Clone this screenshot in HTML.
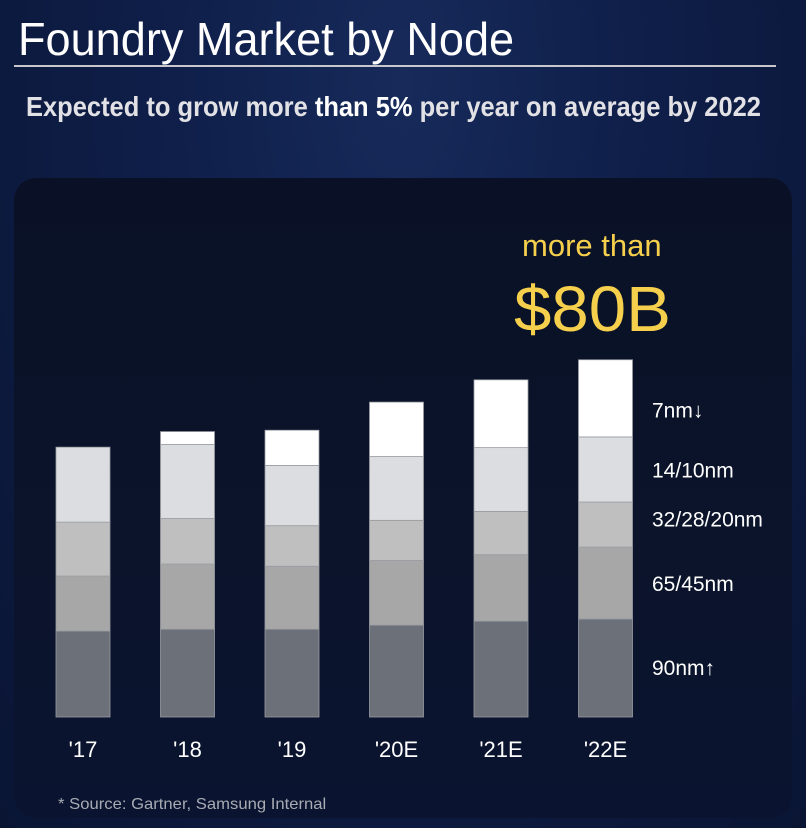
<!DOCTYPE html>
<html><head><meta charset="utf-8"><style>
html,body{margin:0;padding:0}
body{width:806px;height:828px;position:relative;overflow:hidden;font-family:"Liberation Sans",sans-serif;
background:radial-gradient(ellipse at 50% 10%,#172a5a 0%,#0f1f4a 40%,#0a1534 100%);}
.t{position:absolute;white-space:nowrap;transform-origin:0 0}
#panel{position:absolute;left:14px;top:178px;width:778px;height:640px;border-radius:22px;background:linear-gradient(180deg,#0a1126,#0b142b 60%,#0a1430)}
</style></head><body>
<div class="t" style="left:18px;top:12px;font-size:46px;color:#fff;transform:scaleX(0.98)">Foundry Market by Node</div>
<div style="position:absolute;left:14px;top:65px;width:762px;height:2px;background:#c8c8cc"></div>
<div class="t" style="left:26px;top:91px;font-size:28px;color:#e2e2e6;transform:scaleX(0.91);font-weight:bold">Expected to grow more <span style="color:#fff">than 5%</span> per year on average by 2022</div>
<div id="panel"></div>
<svg id="chart" width="806" height="828" style="position:absolute;left:0;top:0"></svg>
<div class="t" style="left:522px;top:228px;font-size:31px;color:#f6d04d;transform:scaleX(1.0)">more than</div>
<div class="t" style="left:514px;top:272px;font-size:64px;color:#f6d04d;transform:scaleX(1.05)">$80B</div>
<div class="t" style="left:58px;top:796px;font-size:16px;color:#a8abb3;transform:scaleX(1.04)">* Source: Gartner, Samsung Internal</div>
<script>
const categories=["'17","'18","'19","'20E","'21E","'22E"];
const series90=[19.3,19.7,19.7,20.6,21.5,22.0];
const series65=[12.3,14.6,14.1,14.5,14.9,16.1];
const series32=[12.1,10.2,9.1,9.0,9.7,10.1];
const series14=[16.8,16.6,13.5,14.3,14.3,14.6];
const series7=[0,2.9,7.9,12.2,15.2,17.3];
const seriesNames=["90nm↑","65/45nm","32/28/20nm","14/10nm","7nm↓"];
const NS="http://www.w3.org/2000/svg";
const svg=document.getElementById('chart');
const baseY=717, pxPer=4.46, x0=56, step=104.5, bw=54;
const yS=v=>baseY-v*pxPer;
const xS=i=>x0+i*step;
const all=[series90,series65,series32,series14,series7];
const colors=["#6b7079","#a7a7a8","#bfbfc0","#dcdde0","#ffffff"];
const keys=["90nm","65-45nm","32-28-20nm","14-10nm","7nm"];
const legendOffsets=[7,8,2,8,19];
categories.forEach((c,i)=>{
  let cum=0;
  all.forEach((s,k)=>{
    const v=s[i]; if(v<=0){return;}
    const r=document.createElementNS(NS,'rect');
    r.setAttribute('x',xS(i));r.setAttribute('width',bw);
    r.setAttribute('y',yS(cum+v));r.setAttribute('height',v*pxPer);
    r.setAttribute('fill',colors[k]);r.setAttribute('stroke','#9a9ca2');r.setAttribute('stroke-width','0.8');
    
    
    svg.appendChild(r);cum+=v;
  });
  const t=document.createElementNS(NS,'text');
  t.setAttribute('x',xS(i)+bw/2);t.setAttribute('y',757);t.setAttribute('text-anchor','middle');
  t.setAttribute('fill','#fff');t.setAttribute('font-size','22');t.setAttribute('font-family','Liberation Sans, sans-serif');
  t.textContent=c;
  
  
  svg.appendChild(t);
});
let cum=0;
all.forEach((s,k)=>{
  const v=s[s.length-1];
  const mid=yS(cum+v/2);cum+=v;
  const t=document.createElementNS(NS,'text');
  t.setAttribute('x',652);t.setAttribute('y',mid+legendOffsets[k]);
  t.setAttribute('fill','#fff');t.setAttribute('font-size','21');t.setAttribute('font-family','Liberation Sans, sans-serif');
  t.textContent=seriesNames[k];
  
  
  svg.appendChild(t);
});
</script>
</body></html>
